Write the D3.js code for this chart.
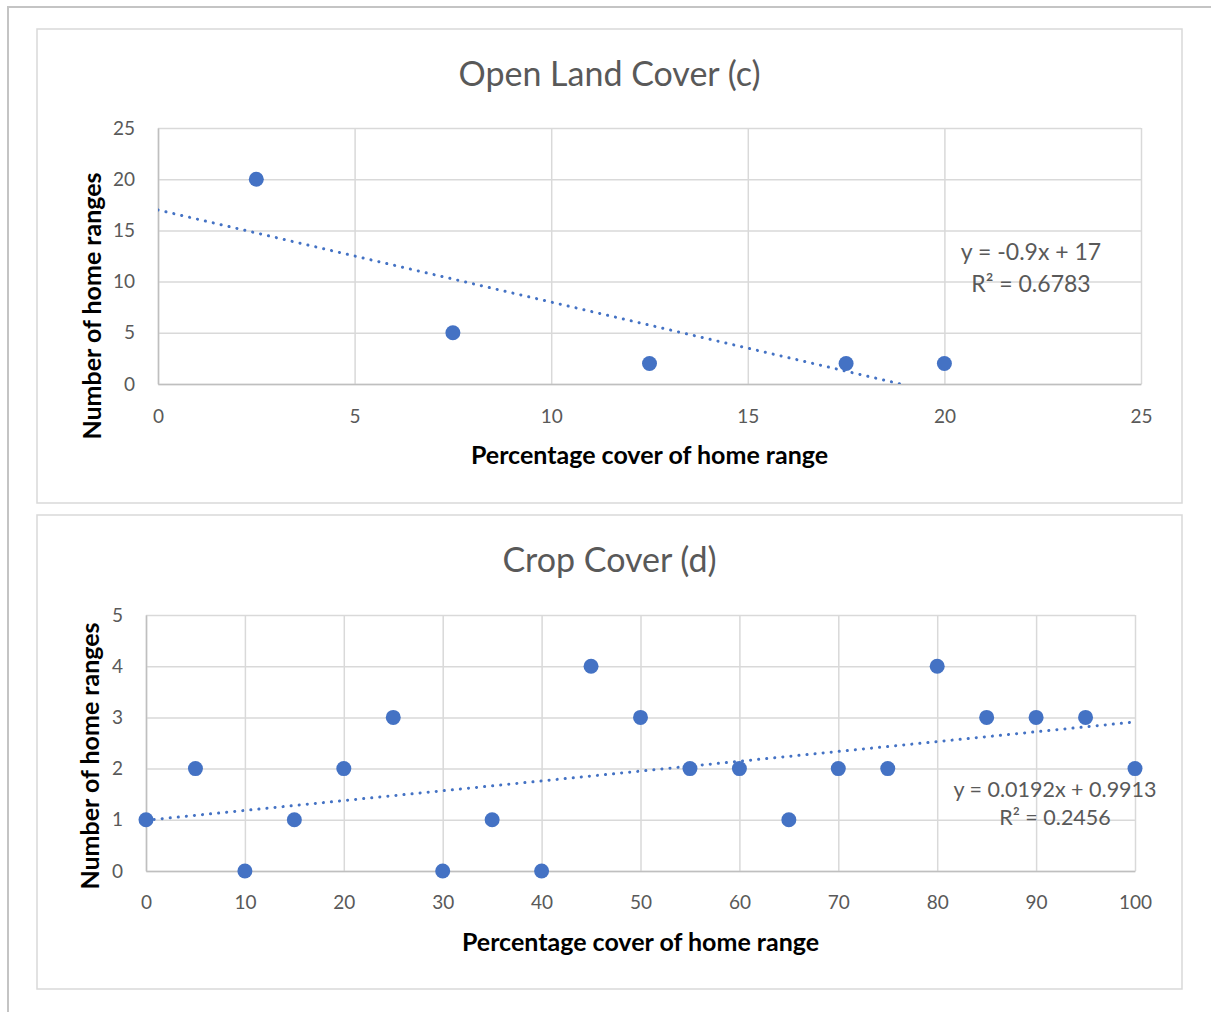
<!DOCTYPE html>
<html>
<head>
<meta charset="utf-8">
<script src="https://cdn.jsdelivr.net/npm/d3@7"></script>
<style>
  html, body { margin: 0; padding: 0; background: #fff; }
  svg { display: block; }
  text { font-family: Lato, "Open Sans", sans-serif; }
</style>
</head>
<body>
<svg id="fig" width="1211" height="1012"></svg>
<script>
// ---- Open Land Cover (c) ----
const openCover = [2.5, 7.5, 12.5, 17.5, 20];
const openRanges = [20, 5, 2, 2, 2];
const openFit = [-0.9, 17];          // slope, intercept
const openR2 = "0.6783";
const openTicksX = [0, 5, 10, 15, 20, 25];
const openTicksY = [0, 5, 10, 15, 20, 25];

// ---- Crop Cover (d) ----
const cropCover = [0, 5, 10, 15, 20, 25, 30, 35, 40, 45, 50, 55, 60, 65, 70, 75, 80, 85, 90, 95, 100];
const cropRanges = [1, 2, 0, 1, 2, 3, 0, 1, 0, 4, 3, 2, 2, 1, 2, 2, 4, 3, 3, 3, 2];
const cropFit = [0.0192, 0.9913];
const cropR2 = "0.2456";
const cropTicksX = [0, 10, 20, 30, 40, 50, 60, 70, 80, 90, 100];
const cropTicksY = [0, 1, 2, 3, 4, 5];

const svg = d3.select("#fig");
const BLUE = "#4472C4";
const TXT = "#595959";

// outer frame (left and top edges visible)
svg.append("path")
  .attr("d", "M8,1012 V7 H1211")
  .attr("fill", "none").attr("stroke", "#c4c4c4").attr("stroke-width", 2);

function fmtEq(m, b) {
  const s = m < 0 ? "-" + Math.abs(m) : String(m);
  return `y = ${s}x ${b < 0 ? "-" : "+"} ${Math.abs(b)}`;
}

function drawChart(cfg) {
  const g = svg.append("g");
  // panel border
  g.append("rect")
    .attr("x", cfg.panel[0]).attr("y", cfg.panel[1])
    .attr("width", cfg.panel[2]).attr("height", cfg.panel[3])
    .attr("fill", "#fff").attr("stroke", "#d9d9d9").attr("stroke-width", 1.5);

  const [L, T, R, B] = cfg.plot;
  const x = d3.scaleLinear().domain(cfg.xDomain).range([L, R]);
  const y = d3.scaleLinear().domain(cfg.yDomain).range([B, T]);

  // gridlines
  const gx = g.append("g").attr("transform", `translate(0,${T})`)
    .call(d3.axisTop(x).tickValues(cfg.ticksX).tickSize(-(B - T)).tickFormat(""));
  const gy = g.append("g").attr("transform", `translate(${L},0)`)
    .call(d3.axisLeft(y).tickValues(cfg.ticksY).tickSize(-(R - L)).tickFormat(""));
  [gx, gy].forEach(a => {
    a.select(".domain").remove();
    a.selectAll("line").attr("stroke", "#d9d9d9").attr("stroke-width", 1.5);
  });

  // axis lines and labels
  const ax = g.append("g").attr("transform", `translate(0,${B})`)
    .call(d3.axisBottom(x).tickValues(cfg.ticksX).tickSize(0).tickPadding(cfg.xPad).tickFormat(d3.format("d")));
  const ay = g.append("g").attr("transform", `translate(${L},0)`)
    .call(d3.axisLeft(y).tickValues(cfg.ticksY).tickSize(0).tickPadding(23).tickFormat(d3.format("d")));
  [ax, ay].forEach(a => {
    a.select(".domain").attr("stroke", "#bfbfbf").attr("stroke-width", 1.5);
    a.selectAll("text").attr("fill", TXT).style("font-size", "19px").style("font-family", "Lato, sans-serif");
  });

  // title
  g.append("text")
    .attr("x", cfg.panel[0] + cfg.panel[2] / 2).attr("y", cfg.titleY)
    .attr("text-anchor", "middle").attr("dominant-baseline", "central")
    .attr("fill", TXT).style("font-size", "34px")
    .text(cfg.title);

  // axis titles
  g.append("text")
    .attr("x", (L + R) / 2).attr("y", cfg.xTitleY)
    .attr("text-anchor", "middle").attr("dominant-baseline", "central")
    .attr("fill", "#000").style("font-size", "25px").style("font-weight", "bold")
    .text("Percentage cover of home range");
  g.append("text")
    .attr("transform", `translate(${cfg.yTitle[0]},${cfg.yTitle[1]}) rotate(-90)`)
    .attr("text-anchor", "middle").attr("dominant-baseline", "central")
    .attr("fill", "#000").style("font-size", "25px").style("font-weight", "bold")
    .text("Number of home ranges");

  // trendline, clipped to the plot area
  const clipId = "clip" + cfg.id;
  g.append("clipPath").attr("id", clipId)
    .append("rect").attr("x", L).attr("y", T).attr("width", R - L).attr("height", B - T);
  const [m, b] = cfg.fit;
  const trend = cfg.xDomain.map(v => [v, m * v + b]);
  g.append("path")
    .attr("clip-path", `url(#${clipId})`)
    .attr("d", d3.line().x(d => x(d[0])).y(d => y(d[1]))(trend))
    .attr("fill", "none").attr("stroke", BLUE).attr("stroke-width", 3)
    .attr("stroke-linecap", "round").attr("stroke-dasharray", "0.1 8");

  // points
  g.append("g").selectAll("circle")
    .data(cfg.xs.map((v, i) => [v, cfg.ys[i]]))
    .join("circle")
    .attr("cx", d => x(d[0])).attr("cy", d => y(d[1])).attr("r", 7.5)
    .attr("fill", BLUE);

  // equation label
  const lab = g.append("text").attr("text-anchor", "middle")
    .attr("fill", TXT).style("font-size", cfg.eqSize + "px");
  lab.append("tspan").attr("x", cfg.eq[0]).attr("y", cfg.eq[1])
    .attr("dominant-baseline", "central").text(fmtEq(m, b));
  lab.append("tspan").attr("x", cfg.eq[0]).attr("y", cfg.eq[1] + cfg.eq[2])
    .attr("dominant-baseline", "central").text(`R² = ${cfg.r2}`);
}

drawChart({
  id: "c",
  panel: [37, 29, 1145, 474],
  plot: [158, 128, 1141, 384],
  xDomain: [0, 25], yDomain: [0, 25],
  ticksX: openTicksX, ticksY: openTicksY,
  xs: openCover, ys: openRanges,
  fit: openFit, r2: openR2,
  title: "Open Land Cover (c)", titleY: 72,
  xTitleY: 454, yTitle: [91, 306], xPad: 26,
  eq: [1031, 251, 32], eqSize: 23
});

drawChart({
  id: "d",
  panel: [37, 515, 1145, 474],
  plot: [146, 615, 1135, 871],
  xDomain: [0, 100], yDomain: [0, 5],
  ticksX: cropTicksX, ticksY: cropTicksY,
  xs: cropCover, ys: cropRanges,
  fit: cropFit, r2: cropR2,
  title: "Crop Cover (d)", titleY: 558,
  xTitleY: 941, yTitle: [89, 756], xPad: 25,
  eq: [1055, 789, 28], eqSize: 21.5
});
</script>
</body>
</html>
